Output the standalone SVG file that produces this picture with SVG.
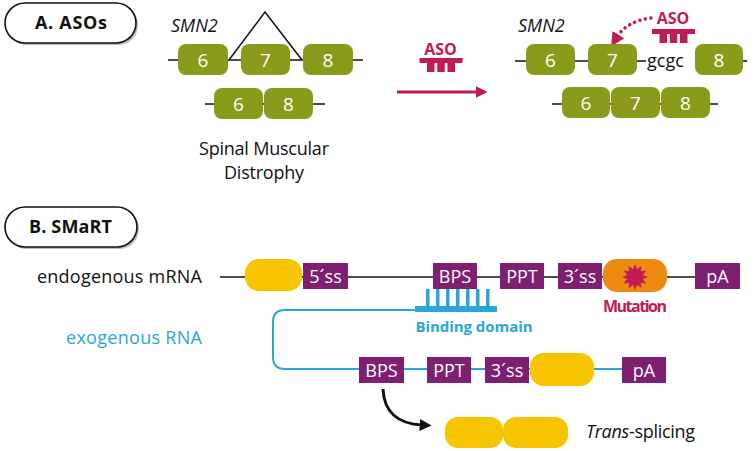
<svg xmlns="http://www.w3.org/2000/svg" width="756" height="451" viewBox="0 0 756 451">
<defs>
<style>
text{font-family:"Open Sans",Lato,"Liberation Sans",sans-serif;}
.lbl{fill:#fff;stroke:#111;stroke-width:1.6;}
.shadow{fill:#bbb;}
.ttl{font-size:18px;font-weight:bold;fill:#111;text-anchor:middle;}
.exon{fill:#8a9b1c;}
.num{font-size:19px;fill:#fff;text-anchor:middle;}
.line{stroke:#111;stroke-width:1.5;fill:none;}
.blk{font-size:18px;fill:#111;}
.crim{fill:#c21a55;}
.crimt{font-size:16px;font-weight:bold;fill:#c21a55;text-anchor:middle;}
.purp{fill:#7e1f72;}
.pt{font-size:18px;fill:#fff;text-anchor:middle;}
.yel{fill:#f7c500;}
.blue{fill:#2ba6dc;}
.bluet{font-size:15px;font-weight:bold;fill:#2ba6dc;text-anchor:middle;}
</style>
<g id="aso-sym">
<rect x="-21.5" y="0" width="43" height="5" class="crim"/>
<rect x="-14" y="4" width="7.5" height="10" class="crim"/>
<rect x="-3.75" y="4" width="7.5" height="10" class="crim"/>
<rect x="6.5" y="4" width="7.5" height="10" class="crim"/>
</g>
<marker id="ah-crim" viewBox="0 0 10 10" refX="2" refY="5" markerWidth="4" markerHeight="4" orient="auto" markerUnits="strokeWidth">
<path d="M0,0 L10,5 L0,10 z" fill="#c21a55"/>
</marker>
<marker id="ah-blk" viewBox="0 0 10 10" refX="2" refY="5" markerWidth="4" markerHeight="4" orient="auto" markerUnits="strokeWidth">
<path d="M0,0 L10,5 L0,10 z" fill="#111"/>
</marker>
</defs>
<rect width="756" height="451" fill="#fff"/>

<g id="label-a">
<rect x="7" y="5" width="131" height="40" rx="20" class="shadow"/>
<rect x="5" y="3" width="131" height="40" rx="20" class="lbl"/>
<text x="71" y="29" class="ttl" textLength="72">A. ASOs</text>
</g>

<g id="label-b">
<rect x="7" y="209" width="132" height="40" rx="20" class="shadow"/>
<rect x="5" y="207" width="132" height="40" rx="20" class="lbl"/>
<text x="70.5" y="233" class="ttl" textLength="83">B. SMaRT</text>
</g>

<g id="connectors">
<line x1="168" y1="60" x2="363" y2="60" class="line"/>
<polyline points="229,60 265,12 302,60" class="line"/>
<line x1="205" y1="104" x2="325" y2="104" class="line"/>
<line x1="397" y1="92" x2="478" y2="92" stroke="#c21a55" stroke-width="3" marker-end="url(#ah-crim)"/>
<line x1="515" y1="61" x2="646" y2="61" class="line"/>
<line x1="695" y1="61" x2="747" y2="61" class="line"/>
<path d="M651,18 Q627,21 617,37" fill="none" stroke="#c21a55" stroke-width="3.5" stroke-linecap="round" stroke-dasharray="0.1 5.5" marker-end="url(#ah-crim)"/>
<line x1="552" y1="104" x2="718" y2="104" class="line"/>
<line x1="220" y1="277" x2="740" y2="277" class="line"/>
<path d="M415,310 H285 Q273,310 273,322 V357 Q273,369 285,369 H622" fill="none" stroke="#2ba6dc" stroke-width="2"/>
<path d="M383,389 C384,412 398,424 422,425" fill="none" stroke="#111" stroke-width="3" marker-end="url(#ah-blk)"/>
</g>

<g id="smn2-left">
<text x="171" y="32" class="blk" font-style="italic" font-size="17">SMN2</text>
<rect x="178" y="44" width="50" height="31" rx="8" class="exon"/>
<text x="203" y="67" class="num">6</text>
<rect x="241" y="44" width="49" height="31" rx="8" class="exon"/>
<text x="265.5" y="67" class="num">7</text>
<rect x="303" y="44" width="50" height="31" rx="8" class="exon"/>
<text x="328" y="67" class="num">8</text>
</g>

<g id="mrna-left">
<rect x="214" y="88" width="49" height="31" rx="8" class="exon"/>
<text x="238.5" y="111" class="num">6</text>
<rect x="264" y="88" width="49" height="31" rx="8" class="exon"/>
<text x="288.5" y="111" class="num">8</text>
</g>

<g id="sma-label">
<text x="264" y="155" class="blk" text-anchor="middle" textLength="130">Spinal Muscular</text>
<text x="264" y="179" class="blk" text-anchor="middle" textLength="80">Distrophy</text>
</g>

<g id="aso-mid">
<text x="440.5" y="55" class="crimt" font-size="18">ASO</text>
<use href="#aso-sym" x="441" y="58"/>
</g>

<g id="smn2-right">
<text x="518" y="32" class="blk" font-style="italic" font-size="17">SMN2</text>
<rect x="526" y="44" width="49" height="31" rx="8" class="exon"/>
<text x="550.5" y="67" class="num">6</text>
<rect x="588" y="44" width="49" height="31" rx="8" class="exon"/>
<text x="612.5" y="67" class="num">7</text>
<text x="647" y="67" class="blk" font-size="20">gcgc</text>
<rect x="695" y="44" width="48" height="31" rx="8" class="exon"/>
<text x="719" y="67" class="num">8</text>
</g>

<g id="aso-right">
<text x="673" y="24" class="crimt" font-size="18">ASO</text>
<use href="#aso-sym" x="673.5" y="29"/>
</g>

<g id="mrna-right">
<rect x="562" y="87" width="48" height="31" rx="8" class="exon"/>
<text x="586" y="110" class="num">6</text>
<rect x="611" y="87" width="49" height="31" rx="8" class="exon"/>
<text x="635.5" y="110" class="num">7</text>
<rect x="661" y="87" width="49" height="31" rx="8" class="exon"/>
<text x="685.5" y="110" class="num">8</text>
</g>

<g id="endogenous">
<text x="37" y="283" class="blk" textLength="165">endogenous mRNA</text>
<rect x="245" y="259" width="57" height="32" rx="14" class="yel"/>
<rect x="303" y="263" width="45" height="26" class="purp"/>
<text x="325.5" y="283" class="pt">5´ss</text>
<rect x="433" y="263" width="44" height="26" class="purp"/>
<text x="455" y="283" class="pt">BPS</text>
<rect x="500" y="263" width="44" height="26" class="purp"/>
<text x="522" y="283" class="pt">PPT</text>
<rect x="558" y="263" width="44" height="26" class="purp"/>
<text x="580" y="283" class="pt">3´ss</text>
<rect x="695" y="263" width="45" height="26" class="purp"/>
<text x="717.5" y="283" class="pt">pA</text>
</g>

<g id="mutation">
<rect x="603" y="259" width="64" height="33" rx="14" fill="#ec8a12"/>
<polygon points="635,264 637.1,269.2 641.5,265.7 640.7,271.3 646.3,270.5 642.8,274.9 648,277 642.8,279.1 646.3,283.5 640.7,282.7 641.5,288.3 637.1,284.8 635,290 632.9,284.8 628.5,288.3 629.3,282.7 623.7,283.5 627.2,279.1 622,277 627.2,274.9 623.7,270.5 629.3,271.3 628.5,265.7 632.9,269.2" class="crim"/>
<text x="635" y="312" class="crimt" textLength="64">Mutation</text>
</g>

<g id="binding-domain">
<rect x="415" y="306" width="82" height="6" class="blue"/>
<rect x="426" y="289" width="3.5" height="18" class="blue"/>
<rect x="436" y="289" width="3.5" height="18" class="blue"/>
<rect x="446" y="289" width="3.5" height="18" class="blue"/>
<rect x="456" y="289" width="3.5" height="18" class="blue"/>
<rect x="466" y="289" width="3.5" height="18" class="blue"/>
<rect x="476" y="289" width="3.5" height="18" class="blue"/>
<rect x="486" y="289" width="3.5" height="18" class="blue"/>
<text x="474" y="332" class="bluet" textLength="117">Binding domain</text>
</g>

<g id="exogenous">
<text x="66" y="344" font-size="18" fill="#2ba6dc" textLength="136">exogenous RNA</text>
<rect x="359" y="357" width="45" height="26" class="purp"/>
<text x="381.5" y="377" class="pt">BPS</text>
<rect x="427" y="357" width="44" height="26" class="purp"/>
<text x="449" y="377" class="pt">PPT</text>
<rect x="485" y="357" width="44" height="26" class="purp"/>
<text x="507" y="377" class="pt">3´ss</text>
<rect x="530" y="353" width="64" height="33" rx="14" class="yel"/>
<rect x="622" y="357" width="44" height="26" class="purp"/>
<text x="644" y="377" class="pt">pA</text>
</g>

<g id="trans-splicing">
<rect x="445" y="417" width="58" height="31" rx="13" class="yel"/>
<rect x="503" y="417" width="65" height="31" rx="13" class="yel"/>
<text x="586" y="438" class="blk" textLength="109"><tspan font-style="italic">Trans</tspan>-splicing</text>
</g>
</svg>
